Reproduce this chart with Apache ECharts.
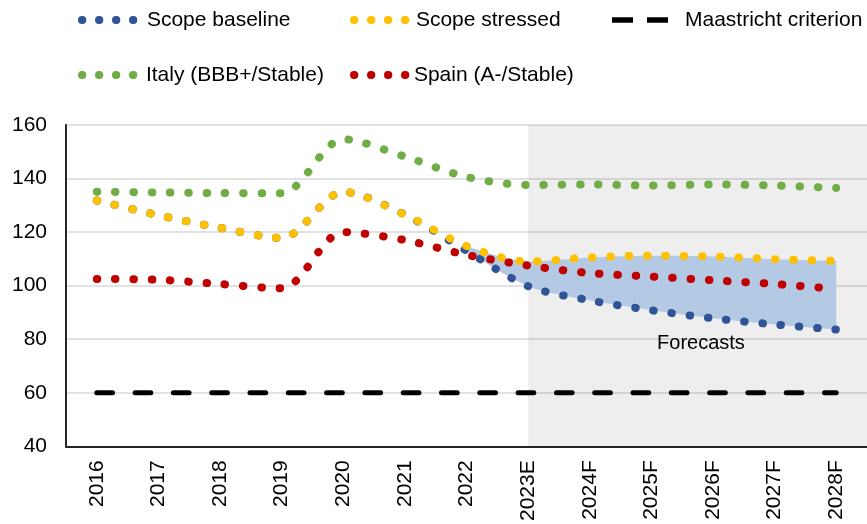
<!DOCTYPE html>
<html>
<head>
<meta charset="utf-8">
<script src="https://cdn.jsdelivr.net/npm/echarts@6/dist/echarts.min.js"></script>
<style>
  html, body { margin: 0; padding: 0; background: #fff; }
  #chart { width: 867px; height: 524px; }
</style>
</head>
<body>
<div id="chart"></div>
<script>
// Debt-to-GDP, %
const years = ["2016", "2017", "2018", "2019", "2020", "2021", "2022", "2023E", "2024F", "2025F", "2026F", "2027F", "2028F"];
const baseline = [131.8, 126.3, 121.6, 117.8, 135.0, 126.5, 113.0, 99.8, 94.5, 90.8, 87.8, 85.5, 83.6];
const stressed = [131.8, 126.3, 121.6, 117.8, 135.0, 126.5, 114.8, 109.0, 110.5, 111.2, 110.9, 109.9, 109.2];
const italy = [135.1, 134.8, 134.6, 134.5, 154.7, 148.2, 140.6, 137.6, 137.8, 137.4, 137.8, 137.4, 136.5];
const spain = [102.5, 102.2, 100.6, 99.0, 120.0, 117.0, 111.5, 107.5, 104.7, 103.4, 102.0, 100.6, 98.8];
const maastricht = [60, 60, 60, 60, 60, 60, 60, 60, 60, 60, 60, 60, 60];
const bandFrom = 6; // shaded range between scenarios starts at 2022
const forecastFrom = 7; // grey "Forecasts" panel starts at 2023E

const FONT = "Liberation Sans, Arial, sans-serif";
const C = {
  baseline: "#2f5597",
  stressed: "#ffc000",
  italy: "#70ad47",
  spain: "#c00000",
  band: "#b4cae4",
};

const bandLow = baseline.map((v, i) => (i < bandFrom ? "-" : v));
const bandSpread = stressed.map((v, i) => (i < bandFrom ? "-" : +(v - baseline[i]).toFixed(2)));

const dashIcon = "path://M0,0H21V5.5H0Z M35,0H56V5.5H35Z";

function dotted(name, data, color) {
  return {
    name,
    type: "line",
    data,
    smooth: 0.3,
    symbol: "none",
    itemStyle: { color },
    lineStyle: { color, width: 8, type: [0.5, 17.8], cap: "round" },
  };
}

// one legend per entry so each sits where the reference has it
function legendAt(left, top, name, textPad, icon) {
  const lg = {
    left,
    top,
    padding: 0,
    data: [icon ? { name, icon } : name],
    itemWidth: icon ? 56 : 52,
    itemHeight: icon ? 5.5 : 8,
    textStyle: { fontFamily: FONT, fontSize: 21, color: "#000", lineHeight: 24, padding: [0, 0, 0, textPad] },
  };
  if (!icon) {
    // dotted line icon, hide the centre marker
    lg.itemStyle = { opacity: 0 };
    lg.lineStyle = { width: 7.8, type: [0.5, 16.5], cap: "round" };
  }
  return lg;
}

const chart = echarts.init(document.getElementById("chart"), null, { renderer: "canvas" });

const option = {
  backgroundColor: "#fff",
  animation: false,
  legend: [
    legendAt(78, 8, "Scope baseline", 8),
    legendAt(350, 8, "Scope stressed", 5),
    legendAt(612, 8, "Maastricht criterion", 12, dashIcon),
    legendAt(78, 63, "Italy (BBB+/Stable)", 7),
    legendAt(350, 63, "Spain (A-/Stable)", 3),
  ],
  grid: { left: 66, top: 125, width: 806, height: 322 },
  xAxis: [
    {
      type: "category",
      data: years,
      boundaryGap: true,
      axisLine: { lineStyle: { color: "#262626", width: 2 } },
      axisTick: { show: false },
      axisLabel: { rotate: 90, margin: 14, fontFamily: FONT, fontSize: 21, color: "#000" },
    },
    { type: "value", min: 0, max: years.length, show: false },
  ],
  yAxis: {
    type: "value",
    min: 40,
    max: 160,
    interval: 20,
    axisLine: { show: true, lineStyle: { color: "#262626", width: 2 } },
    axisTick: { show: false },
    axisLabel: { margin: 19, fontFamily: FONT, fontSize: 21, color: "#000" },
    splitLine: { lineStyle: { color: "#d9d9d9", width: 1.5 } },
  },
  series: [
    {
      name: "forecast-panel",
      type: "line",
      xAxisIndex: 1,
      data: [],
      silent: true,
      markArea: {
        silent: true,
        itemStyle: { color: "rgba(0,0,0,0.066)" },
        label: {
          show: true,
          position: ["51%", "68%"],
          align: "center",
          verticalAlign: "middle",
          fontFamily: FONT,
          fontSize: 20,
          color: "#000",
        },
        data: [[
          { name: "Forecasts", xAxis: forecastFrom + 0.5, yAxis: 40 },
          { xAxis: years.length, yAxis: 160 },
        ]],
      },
    },
    {
      name: "band-low",
      type: "line",
      stack: "band",
      data: bandLow,
      smooth: 0.3,
      symbol: "none",
      silent: true,
      lineStyle: { opacity: 0 },
    },
    {
      name: "band-spread",
      type: "line",
      stack: "band",
      data: bandSpread,
      smooth: 0.3,
      symbol: "none",
      silent: true,
      lineStyle: { opacity: 0 },
      areaStyle: { color: C.band, opacity: 1 },
    },
    {
      name: "Maastricht criterion",
      type: "line",
      data: maastricht,
      symbol: "none",
      itemStyle: { color: "#000" },
      lineStyle: { color: "#000", width: 5, type: [15.7, 22.6], cap: "round" },
    },
    dotted("Italy (BBB+/Stable)", italy, C.italy),
    dotted("Scope baseline", baseline, C.baseline),
    dotted("Scope stressed", stressed, C.stressed),
    dotted("Spain (A-/Stable)", spain, C.spain),
  ],
};

chart.setOption(option);
</script>
</body>
</html>
